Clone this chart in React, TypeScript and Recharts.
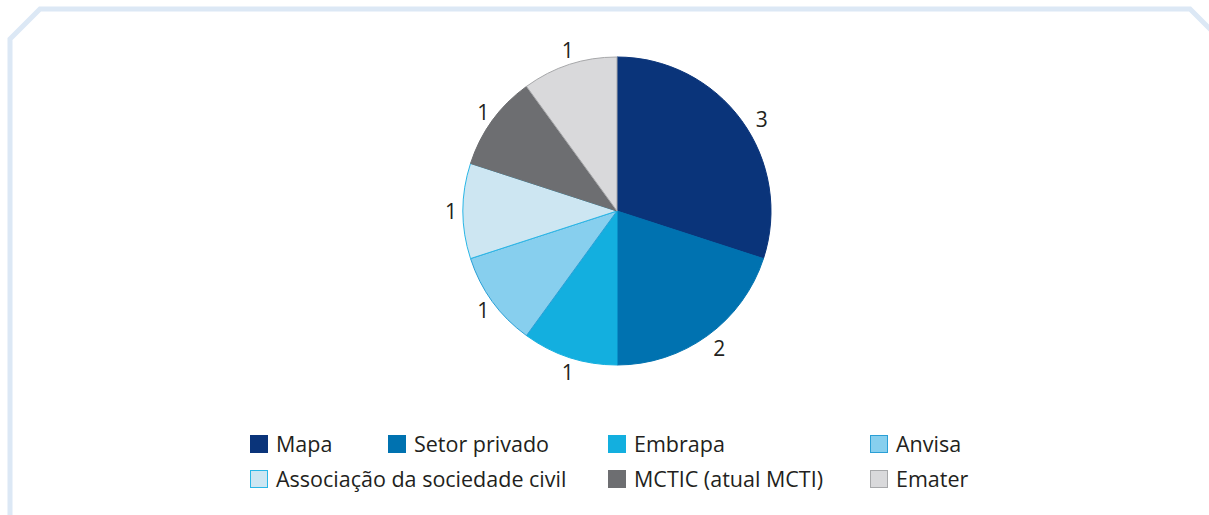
import React from 'react'
import { PieChart, Pie, Cell, Legend } from 'recharts'

const categories = ['Mapa', 'Setor privado', 'Embrapa', 'Anvisa', 'Associação da sociedade civil', 'MCTIC (atual MCTI)', 'Emater']
const values = [3, 2, 1, 1, 1, 1, 1]
const fills = ['#0a347a', '#0072b0', '#13afdf', '#87cfee', '#cde6f2', '#6d6e71', '#d9d9db']
const strokes = ['#0a347a', '#0072b0', '#13afdf', '#2a9fd6', '#29b6e6', '#6d6e71', '#a7a8aa']

// legend grid slots (left, top) for each category
const legendSlots: Array<[number, number]> = [
  [250, 435], [388, 435], [608, 435], [870, 435],
  [250, 470], [608, 470], [870, 470],
]

const data = categories.map((name, i) => ({ name, value: values[i] }))
const font = '"Open Sans", "Noto Sans", sans-serif'
const RAD = Math.PI / 180

function renderLabel(props: any) {
  const { cx, cy, midAngle, outerRadius, value, index } = props
  const r = outerRadius + 15
  // the big slice's label sits a little lower in the original
  const a = index === 0 ? midAngle - 3 : midAngle
  const x = cx + r * Math.cos(-a * RAD) + 3
  const y = cy + r * Math.sin(-a * RAD)
  return (
    <text x={x} y={y} textAnchor="middle" dominantBaseline="central" fill="#231f20" fontSize={21} fontFamily={font}>
      {value}
    </text>
  )
}

function LegendBox() {
  return (
    <div style={{ position: 'relative', width: 1209, height: 80 }}>
      {categories.map((c, i) => {
        const [l, t] = legendSlots[i]
        return (
          <div key={c} style={{ position: 'absolute', left: l, top: t - 430, display: 'flex', alignItems: 'center', height: 18 }}>
            <span style={{ width: 16, height: 16, background: fills[i], border: `1px solid ${strokes[i]}`, display: 'inline-block' }} />
            <span style={{ marginLeft: 8, fontFamily: font, fontSize: 21.5, color: '#231f20', whiteSpace: 'nowrap', lineHeight: '18px' }}>{c}</span>
          </div>
        )
      })}
    </div>
  )
}

export default function App() {
  return (
    <div style={{ position: 'absolute', left: 0, top: 0, width: 1209, height: 515, background: '#fff', overflow: 'hidden' }}>
      <svg width={1209} height={515} style={{ position: 'absolute', left: 0, top: 0 }}>
        <path d="M10 520 L10 39 L40 9 L1190 9 L1214 33" fill="none" stroke="#dce8f5" strokeWidth={5} />
      </svg>
      <PieChart width={1209} height={515} margin={{ top: 0, right: 0, bottom: 0, left: 0 }} style={{ position: 'absolute', left: 0, top: 0 }}>
        <Pie
          data={data}
          dataKey="value"
          nameKey="name"
          cx={617}
          cy={211}
          outerRadius={154}
          startAngle={90}
          endAngle={-270}
          label={renderLabel}
          labelLine={false}
          isAnimationActive={false}
        >
          {data.map((d, i) => (
            <Cell key={d.name} fill={fills[i]} stroke={strokes[i]} strokeWidth={1} />
          ))}
        </Pie>
        <Legend content={() => <LegendBox />} wrapperStyle={{ position: 'absolute', left: 0, top: 430, width: 1209 }} />
      </PieChart>
    </div>
  )
}
